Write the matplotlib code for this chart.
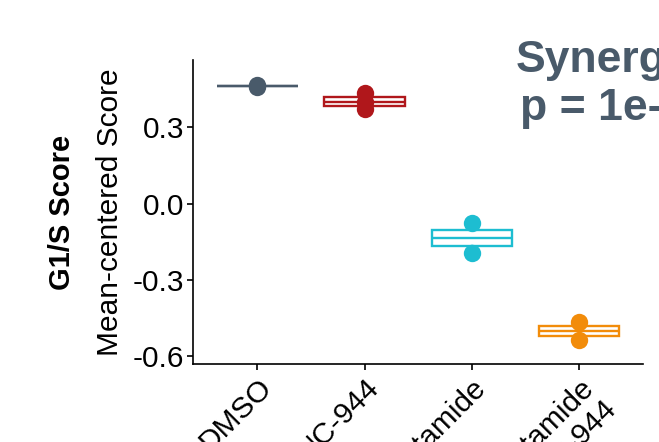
"""
G1/S score boxplot (mean-centered) per treatment
"""

import matplotlib
matplotlib.use('Agg')
import matplotlib.pyplot as plt

plt.rcParams['font.family'] = ['Liberation Sans', 'DejaVu Sans']

# 데이터
groups = ['DMSO', 'NC-944', 'Enzalutamide', 'Enzalutamide\n+ NC-944']
scores = [
    [0.466, 0.460],
    [0.436, 0.401, 0.371],
    [-0.074, -0.195],
    [-0.464, -0.536],
]
colors = ['#495A6A', '#B0171B', '#1DBDD1', '#F28C0A']
yticks = [-0.6, -0.3, 0.0, 0.3]
title_lines = ['Synergy', 'p = 1e-04']

fig = plt.figure(figsize=(6.59, 4.42), dpi=100)
ax = fig.add_axes([0.293, 0.1765, 0.683, 0.6875])

positions = list(range(1, len(groups) + 1))
for pos, vals, col in zip(positions, scores, colors):
    ax.boxplot(
        [vals], positions=[pos], widths=0.75, showcaps=False, showfliers=False,
        whis=(0, 100), patch_artist=True,
        boxprops=dict(facecolor='white', edgecolor=col, linewidth=1.7),
        medianprops=dict(color=col, linewidth=1.7),
        whiskerprops=dict(color=col, linewidth=1.7),
        zorder=2,
    )
    ax.plot([pos] * len(vals), vals, 'o', color=col, markersize=12.5,
            markeredgewidth=0, zorder=3)

ax.set_xlim(0.4, 4.6)
ax.set_ylim(-0.63, 0.565)
ax.set_yticks(yticks)
ax.set_yticklabels([f'{t:.1f}' for t in yticks])
ax.set_xticks(positions)
ax.set_xticklabels(groups, rotation=45, ha='right', va='top',
                   rotation_mode='anchor', multialignment='right')

for side in ['top', 'right']:
    ax.spines[side].set_visible(False)
for side in ['left', 'bottom']:
    ax.spines[side].set_linewidth(1.2)
    ax.spines[side].set_color('black')

ax.tick_params(axis='both', labelsize=21.5, length=4.5, width=1.2,
               colors='black', pad=2)

# y축 라벨 (두 줄)
fig.text(62 / 659, 1 - 212 / 442, 'G1/S Score', rotation=90, ha='center',
         va='center', fontsize=21, fontweight='bold')
fig.text(110 / 659, 1 - 212 / 442, 'Mean-centered Score', rotation=90,
         ha='center', va='center', fontsize=21.5)

# 제목 (오른쪽이 잘린 상태)
fig.text(516 / 659, 1 - 72 / 442, title_lines[0], ha='left', va='baseline',
         fontsize=32, fontweight='bold', color='#495A6A')
fig.text(520 / 659, 1 - 120 / 442, title_lines[1], ha='left', va='baseline',
         fontsize=32, fontweight='bold', color='#495A6A')

fig.savefig('out.png', dpi=100)
